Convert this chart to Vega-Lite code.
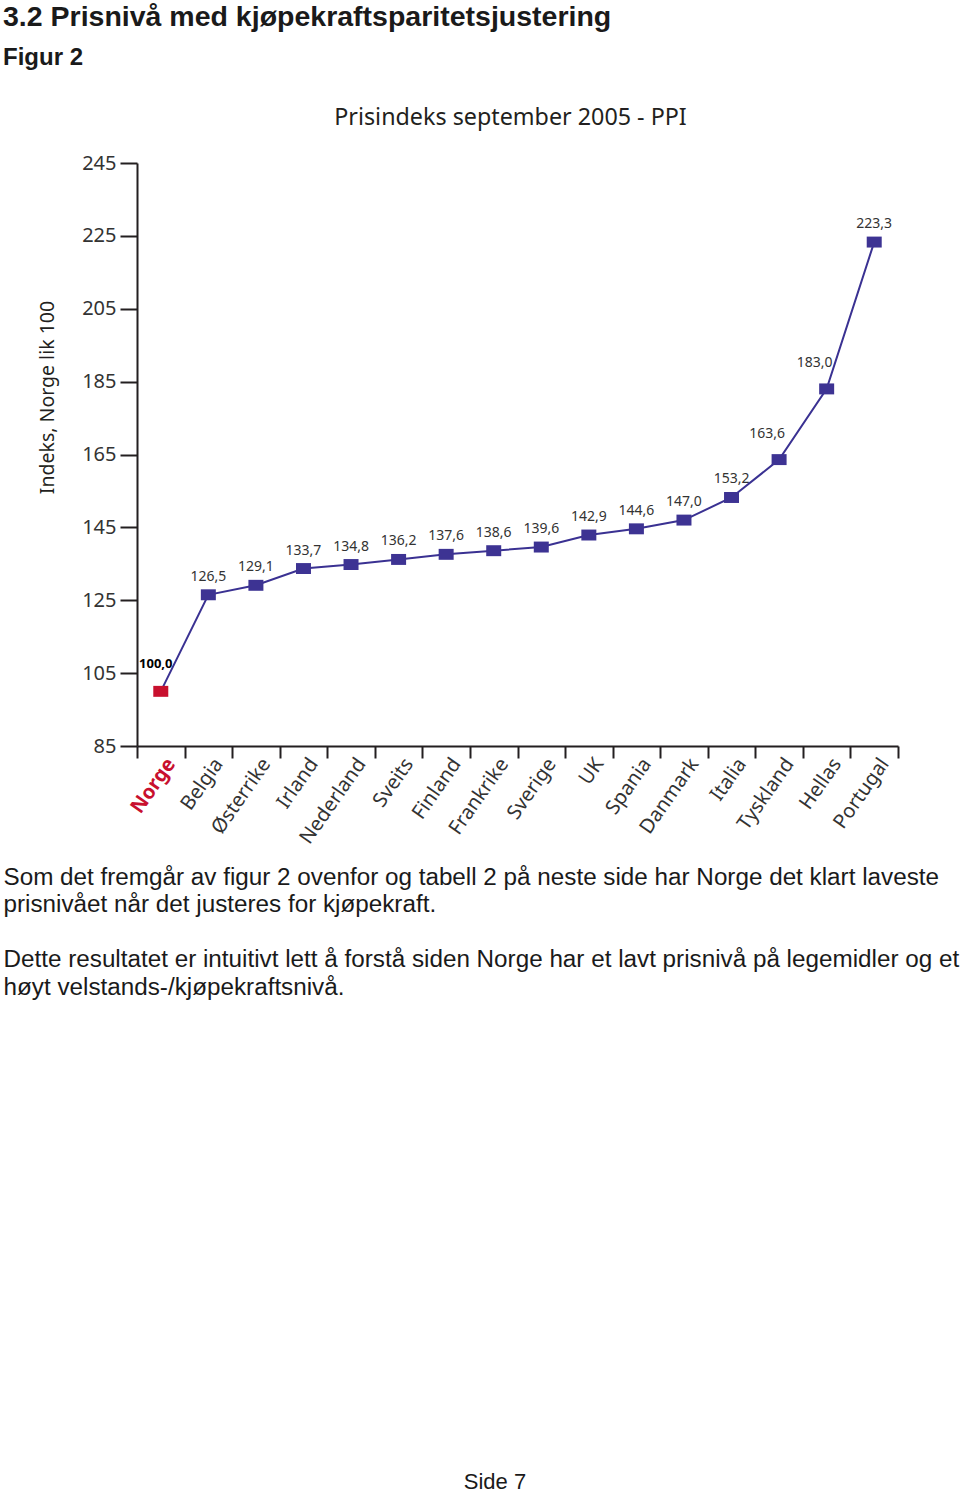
{
  "$schema": "https://vega.github.io/schema/vega-lite/v6.json",
  "autosize": {"type": "none"},
  "width": 761,
  "height": 583,
  "padding": {"left": 137, "top": 163, "right": 62, "bottom": 747},
  "background": "white",
  "title": {
    "text": "3.2 Prisnivå med kjøpekraftsparitetsjustering",
    "subtitle": "Figur 2",
    "anchor": "start",
    "frame": "group",
    "dx": -134,
    "font": "Liberation Sans",
    "fontSize": 28.5,
    "fontWeight": "bold",
    "color": "#1a1a1a",
    "subtitleFont": "Liberation Sans",
    "subtitleFontSize": 24,
    "subtitleFontWeight": "bold",
    "subtitleColor": "#1a1a1a",
    "subtitlePadding": 15,
    "offset": 35
  },
  "data": {
    "values": [
      {"country": "Norge", "index": 100.0},
      {"country": "Belgia", "index": 126.5},
      {"country": "Østerrike", "index": 129.1},
      {"country": "Irland", "index": 133.7},
      {"country": "Nederland", "index": 134.8},
      {"country": "Sveits", "index": 136.2},
      {"country": "Finland", "index": 137.6},
      {"country": "Frankrike", "index": 138.6},
      {"country": "Sverige", "index": 139.6},
      {"country": "UK", "index": 142.9},
      {"country": "Spania", "index": 144.6},
      {"country": "Danmark", "index": 147.0},
      {"country": "Italia", "index": 153.2},
      {"country": "Tyskland", "index": 163.6},
      {"country": "Hellas", "index": 183.0},
      {"country": "Portugal", "index": 223.3}
    ]
  },
  "resolve": {"axis": {"x": "independent", "y": "independent"}},
  "layer": [
    {
      "mark": {"type": "line", "color": "#3a3192", "strokeWidth": 2},
      "encoding": {
        "x": {
          "field": "country", "type": "nominal", "sort": null,
          "scale": {"type": "band", "paddingInner": 0, "paddingOuter": 0},
          "axis": {
            "orient": "bottom",
            "tickBand": "extent",
            "tickSize": 12, "tickWidth": 2, "tickColor": "#231f20",
            "domainWidth": 2, "domainColor": "#231f20",
            "labelAngle": -55, "labelAlign": "right", "labelBaseline": "middle",
            "labelOffset": 10, "labelPadding": 2,
            "labelFont": "Noto Sans", "labelFontSize": 20,
            "labelColor": {"condition": {"test": "datum.value === 'Norge'", "value": "#c8102e"}, "value": "#333333"},
            "labelFontWeight": {"condition": {"test": "datum.value === 'Norge'", "value": "bold"}, "value": "normal"},
            "grid": false,
            "title": [
              "Som det fremgår av figur 2 ovenfor og tabell 2 på neste side har Norge det klart laveste",
              "prisnivået når det justeres for kjøpekraft."
            ],
            "titleFont": "Liberation Sans", "titleFontSize": 24.25, "titleFontWeight": "normal",
            "titleColor": "#1a1a1a", "titleLineHeight": 27.5,
            "titleAngle": 0, "titleAlign": "left", "titleBaseline": "top",
            "titleX": -134, "titleY": 119
          }
        },
        "y": {
          "field": "index", "type": "quantitative",
          "scale": {"domain": [85, 245], "nice": false, "zero": false},
          "axis": {
            "orient": "left",
            "values": [85, 105, 125, 145, 165, 185, 205, 225, 245],
            "tickSize": 17, "tickWidth": 2, "tickColor": "#231f20",
            "domainWidth": 2, "domainColor": "#231f20",
            "labelFont": "Noto Sans", "labelFontSize": 20, "labelColor": "#333333", "labelPadding": 4,
            "grid": false,
            "title": "Indeks, Norge lik 100",
            "titleFont": "Noto Sans", "titleFontSize": 19.5, "titleFontWeight": "normal", "titleColor": "#231f20",
            "titleAngle": -90, "titleAlign": "center", "titleBaseline": "middle",
            "titleX": -90, "titleY": 234
          }
        }
      }
    },
    {
      "mark": {"type": "point", "shape": "M-1,-0.73L1,-0.73L1,0.73L-1,0.73Z", "filled": true, "size": 225, "opacity": 1},
      "encoding": {
        "x": {"field": "country", "type": "nominal", "sort": null, "axis": null},
        "y": {"field": "index", "type": "quantitative", "axis": null},
        "color": {"condition": {"test": "datum.country === 'Norge'", "value": "#c8102e"}, "value": "#3d3393"}
      }
    },
    {
      "transform": [{"filter": "datum.country !== 'Norge' && datum.country !== 'Hellas' && datum.country !== 'Tyskland'"}],
      "mark": {"type": "text", "dy": -18, "font": "Noto Sans", "fontSize": 14, "color": "#333333"},
      "encoding": {
        "x": {
          "field": "country", "type": "nominal", "sort": null,
          "axis": {
            "orient": "top", "domain": false, "ticks": false, "labels": false, "grid": false,
            "title": "Prisindeks september 2005 - PPI",
            "titleFont": "Noto Sans", "titleFontSize": 23.3, "titleFontWeight": "normal", "titleColor": "#231f20",
            "titleAlign": "center", "titleBaseline": "middle", "titleX": 373, "titleY": -46
          }
        },
        "y": {
          "field": "index", "type": "quantitative",
          "axis": {
            "orient": "right", "domain": false, "ticks": false, "labels": false, "grid": false,
            "title": "Side 7",
            "titleFont": "Liberation Sans", "titleFontSize": 22, "titleFontWeight": "normal", "titleColor": "#1a1a1a",
            "titleAngle": 0, "titleAlign": "center", "titleBaseline": "alphabetic",
            "titleX": -403.5, "titleY": 1325
          }
        },
        "text": {"field": "index", "type": "quantitative", "format": ".1f"}
      }
    },
    {
      "transform": [{"filter": "datum.country === 'Hellas' || datum.country === 'Tyskland'"}],
      "mark": {"type": "text", "dx": -12, "dy": -26, "font": "Noto Sans", "fontSize": 14, "color": "#333333"},
      "encoding": {
        "x": {
          "field": "country", "type": "nominal", "sort": null,
          "axis": {
            "orient": "bottom", "domain": false, "ticks": false, "labels": false, "grid": false,
            "title": [
              "Dette resultatet er intuitivt lett å forstå siden Norge har et lavt prisnivå på legemidler og et",
              "høyt velstands-/kjøpekraftsnivå."
            ],
            "titleFont": "Liberation Sans", "titleFontSize": 24.25, "titleFontWeight": "normal",
            "titleColor": "#1a1a1a", "titleLineHeight": 27.5,
            "titleAngle": 0, "titleAlign": "left", "titleBaseline": "top",
            "titleX": -134, "titleY": 201.5
          }
        },
        "y": {"field": "index", "type": "quantitative", "axis": null},
        "text": {"field": "index", "type": "quantitative", "format": ".1f"}
      }
    },
    {
      "transform": [{"filter": "datum.country === 'Norge'"}],
      "mark": {"type": "text", "dx": -5, "dy": -27, "font": "Noto Sans", "fontSize": 13, "fontWeight": "bold", "color": "#000000"},
      "encoding": {
        "x": {"field": "country", "type": "nominal", "sort": null, "axis": null},
        "y": {"field": "index", "type": "quantitative", "axis": null},
        "text": {"field": "index", "type": "quantitative", "format": ".1f"}
      }
    }
  ],
  "config": {
    "view": {"stroke": null},
    "locale": {"number": {"decimal": ",", "thousands": " ", "grouping": [3], "currency": ["", " kr"]}}
  }
}
